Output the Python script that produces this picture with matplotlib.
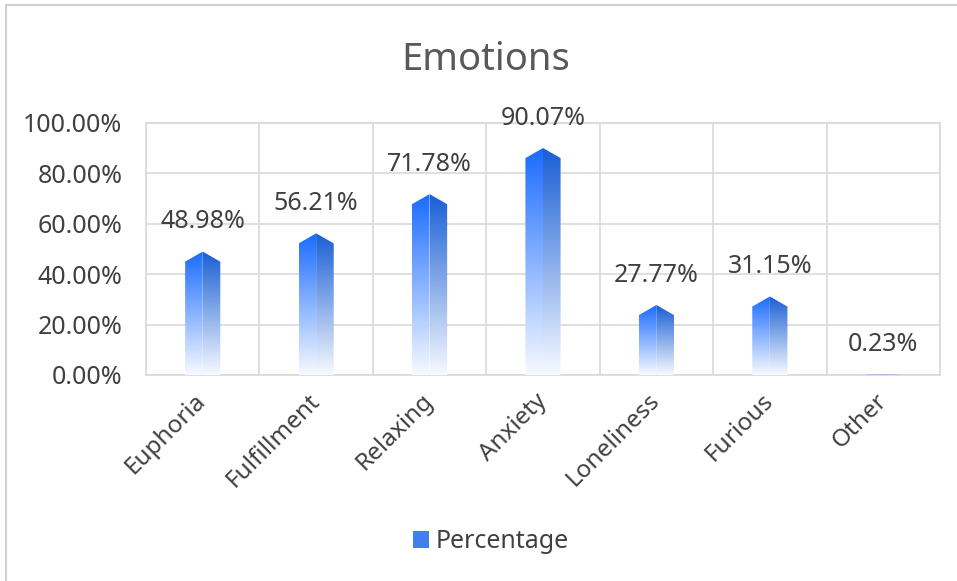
import numpy as np
import matplotlib.pyplot as plt
from matplotlib.patches import Polygon, Patch
from matplotlib.lines import Line2D

categories = ["Euphoria", "Fulfillment", "Relaxing", "Anxiety", "Loneliness", "Furious", "Other"]
values = [48.98, 56.21, 71.78, 90.07, 27.77, 31.15, 0.23]
value_labels = ["48.98%", "56.21%", "71.78%", "90.07%", "27.77%", "31.15%", "0.23%"]
y_ticks = [0, 20, 40, 60, 80, 100]
y_tick_labels = ["0.00%", "20.00%", "40.00%", "60.00%", "80.00%", "100.00%"]

plt.rcParams['font.family'] = ['Noto Sans', 'DejaVu Sans']
text_color = '#404040'
grid_color = '#d9d9d9'

fig = plt.figure(figsize=(9.57, 5.81), dpi=100)
ax = fig.add_axes([146 / 957, 206 / 581, 794 / 957, 252 / 581])


def gradient(top_rgb, n=256):
    # fade from the top colour down to almost white
    bottom = np.array([0.97, 0.98, 1.0])
    t = np.linspace(0, 1, n)[:, None]
    top = np.array(top_rgb)
    return (bottom * (1 - t) + top * t)[:, None, :]


left_grad = gradient([0.10, 0.42, 1.00])
right_grad = gradient([0.10, 0.37, 0.83])

bar_w = 0.31
shoulder = 4.0
for i, v in enumerate(values):
    s = min(shoulder, v * 0.5)
    halves = [
        ([(i - bar_w / 2, 0), (i - bar_w / 2, v - s), (i, v), (i, 0)], left_grad, i - bar_w / 2, i),
        ([(i, 0), (i, v), (i + bar_w / 2, v - s), (i + bar_w / 2, 0)], right_grad, i, i + bar_w / 2),
    ]
    for pts, grad, x0, x1 in halves:
        poly = Polygon(pts, closed=True, facecolor='none', edgecolor='none')
        ax.add_patch(poly)
        im = ax.imshow(grad, extent=[x0, x1, 0, v], origin='lower', aspect='auto',
                       interpolation='bilinear', zorder=3)
        im.set_clip_path(poly)
    ax.annotate(value_labels[i], (i, v), xytext=(0, 21.5), textcoords='offset points',
                ha='center', va='center', fontsize=18, color=text_color)

ax.set_xlim(-0.5, len(categories) - 0.5)
ax.set_ylim(0, 100)
ax.set_yticks(y_ticks)
ax.set_yticklabels(y_tick_labels, fontsize=18, color=text_color)
ax.set_xticks(range(len(categories)))
ax.set_xticklabels(categories, fontsize=17.5, color=text_color, rotation=45,
                   ha='right', va='center', rotation_mode='anchor')
ax.set_xticks(np.arange(-0.5, len(categories), 1), minor=True)
ax.tick_params(axis='both', which='both', length=0)
ax.tick_params(axis='y', pad=17)
ax.tick_params(axis='x', pad=16)
ax.grid(True, axis='y', color=grid_color, linewidth=1.2, zorder=0)
ax.grid(True, axis='x', which='minor', color=grid_color, linewidth=1.2, zorder=0)
ax.set_axisbelow(True)
for sp in ax.spines.values():
    sp.set_color(grid_color)
    sp.set_linewidth(1.2)

fig.text(0.508, 1 - 60 / 581, "Emotions", ha='center', va='center', fontsize=27.5, color='#595959')

handle = Patch(facecolor='#3f7ff0', edgecolor='none')
fig.legend([handle], ["Percentage"], loc='center', bbox_to_anchor=(0.513, 1 - 542 / 581),
           frameon=False, fontsize=18, labelcolor=text_color, handlelength=0.65,
           handleheight=0.65, handletextpad=0.25)

# outer chart border (only top and left edges show in the frame)
fig.add_artist(Line2D([6 / 957, 6 / 957], [0, 1 - 5 / 581], transform=fig.transFigure,
                      color='#d0d0d0', linewidth=1.5))
fig.add_artist(Line2D([6 / 957, 1], [1 - 5 / 581, 1 - 5 / 581], transform=fig.transFigure,
                      color='#d0d0d0', linewidth=1.5))

fig.savefig('out.png', dpi=100)
